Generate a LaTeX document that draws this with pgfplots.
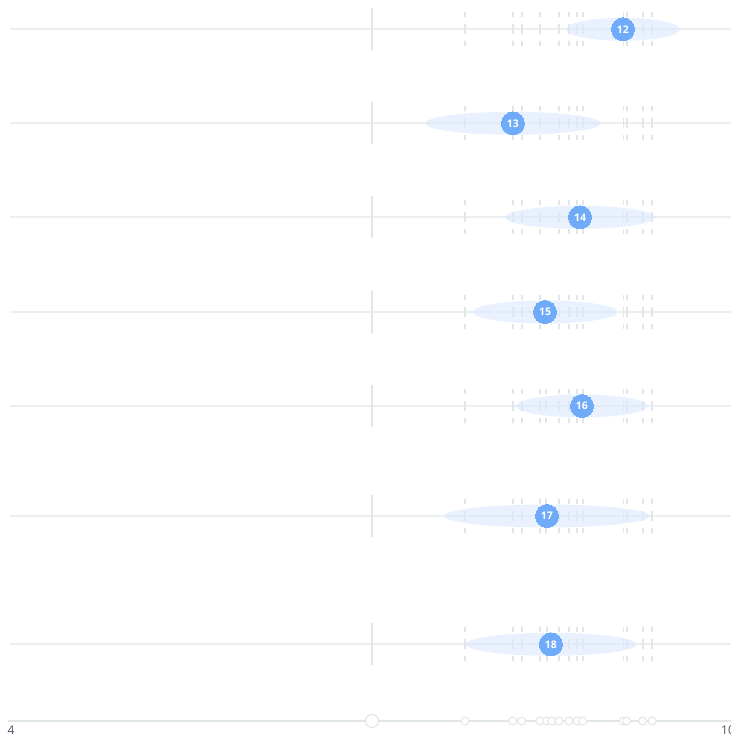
\documentclass[border=0pt]{standalone}
\usepackage{pgfplots}
\pgfplotsset{compat=1.18}
\usepackage{pgfplotstable}
\usepackage{fontspec}
\setmainfont{Open Sans}

\definecolor{rowline}{HTML}{ECEFF1}
\definecolor{axisgrey}{HTML}{E1E6E8}
\definecolor{dashgrey}{HTML}{E2E6E9}
\definecolor{ellfill}{HTML}{DCE9FC}
\definecolor{dotblue}{HTML}{6FABF8}
\definecolor{ticktext}{HTML}{4A5563}

% one row per item: label, value, row position
\pgfplotstableread{
lab x     y
12  9.080 -29.3
13  8.168 -123.3
14  8.724 -217.3
15  8.434 -312
16  8.740 -406
17  8.450 -516
18  8.483 -644.3
}\rows

% values shown as dashed marks in every row
\pgfplotstableread{
x     y
7.771 0
8.166 0
8.241 0
8.392 0
8.550 0
8.633 0
8.699 0
8.746 0
9.084 0
9.110 0
9.243 0
9.323 0
}\othervals

% values on the bottom strip
\pgfplotstableread{
x     y
7.771 -721
8.166 -721
8.241 -721
8.392 -721
8.448 -721
8.489 -721
8.550 -721
8.633 -721
8.699 -721
8.746 -721
9.084 -721
9.110 -721
9.243 -721
9.323 -721
}\stripvals

% band round a value: x, row, half width (in x units)
\newcommand\band[3]{%
  \addplot[only marks, color=ellfill, mark=*, mark size=11.5pt,
    mark options={draw=ellfill, draw opacity=0, fill=ellfill, fill opacity=0.65,
      xscale={#3*120.667/11.5}}]
    coordinates {(#1,#2)};}

\begin{document}
\begin{tikzpicture}
\begin{axis}[
    at={(0,0)}, anchor=south west,
    scale only axis,
    width=724pt, height=721pt,
    xmin=4, xmax=10,
    ymin=-721, ymax=0,
    clip=false,
    axis y line=none,
    axis x line=bottom,
    x axis line style={draw=axisgrey, line width=2pt, -, shorten <=-2.5pt},
    xtick={4},
    extra x ticks={10},
    extra x tick style={xticklabel style={xshift=-7pt}},
    major tick length=0pt,
    xticklabel style={text=ticktext, font=\fontsize{12}{14}\selectfont, yshift=-1pt, xshift=1pt},
    /pgf/number format/assume math mode=true,
]

% row base lines
\pgfplotsinvokeforeach{-29.3,-123.3,-217.3,-312,-406,-516,-644.3}{
  \addplot[rowline, line width=2pt] coordinates {(4,#1) (10,#1)};
}

% reference line at 7 in each row
\addplot[draw=none, mark=none,
  error bars/.cd, y dir=both, y fixed=21, error mark=none,
  error bar style={draw=axisgrey, line width=2pt, solid}]
  coordinates {(7,-29.3) (7,-123.3) (7,-217.3) (7,-312) (7,-406) (7,-516) (7,-644.3)};

% dashed marks of all values
\pgfplotsinvokeforeach{-29.3,-123.3,-217.3,-312,-406,-516,-644.3}{
  \addplot[draw=none, mark=none,
    error bars/.cd, y dir=both, y fixed=21.5, error mark=none,
    error bar style={draw=dashgrey, line width=1.8pt, dash pattern=on 5pt off 7pt}]
    table[x=x, y expr=#1] {\othervals};
}
\addplot[draw=none, mark=none,
  error bars/.cd, y dir=both, y fixed=21.5, error mark=none,
  error bar style={draw=dashgrey, line width=1.8pt, dash pattern=on 5pt off 7pt}]
  coordinates {(8.440,-406) (8.440,-516) (8.448,-644.3)};

% bands
\band{9.080}{-29.3}{0.472}
\band{8.168}{-123.3}{0.729}
\band{8.724}{-217.3}{0.622}
\band{8.434}{-312}{0.601}
\band{8.740}{-406}{0.543}
\band{8.450}{-516}{0.854}
\band{8.483}{-644.3}{0.709}

% labelled dots
\addplot[only marks, color=dotblue, mark=*, mark size=11.5pt,
  mark options={fill=dotblue, draw=dotblue, line width=0pt},
  nodes near coords, point meta=explicit symbolic,
  nodes near coords style={anchor=center, text=white,
    font=\fontsize{10.5}{12}\selectfont\bfseries}]
  table[x=x, y=y, meta=lab] {\rows};

% bottom strip
\addplot[only marks, mark=*, mark size=6.5pt,
  mark options={fill=white, draw=axisgrey, line width=1pt}]
  coordinates {(7,-721)};
\addplot[only marks, mark=*, mark size=4pt,
  mark options={fill=white, draw=axisgrey, line width=1pt}]
  table[x=x, y=y] {\stripvals};

\end{axis}
\pgfresetboundingbox
\useasboundingbox (-10pt,-21pt) rectangle (721pt,721pt);
\end{tikzpicture}
\end{document}
